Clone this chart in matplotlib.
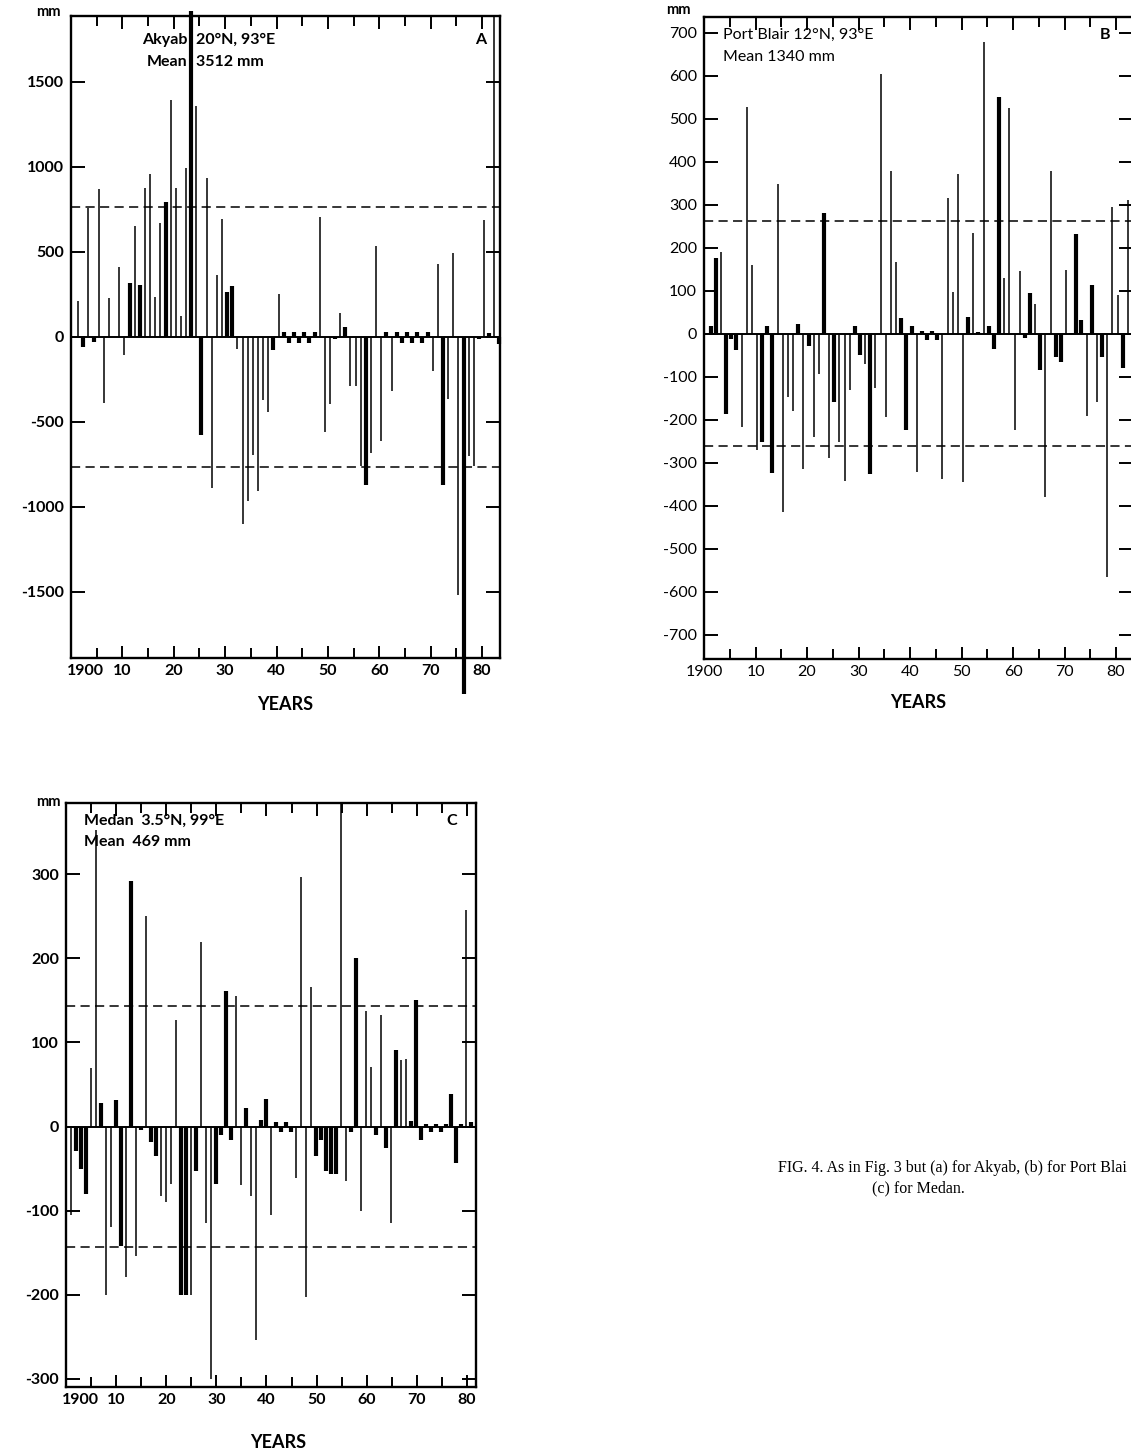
import matplotlib.pyplot as plt
import matplotlib.transforms as mtransforms

plt.rcParams['font.family'] = ['Lato', 'DejaVu Sans']

W, H = 1131, 1453

# rainfall anomalies (mm)
years_a = list(range(1901, 1984))
akyab = [208, -60, 760, -30, 868, -388, 228, 0, 411, -107,
         315, 650, 305, 875, 960, 236, 670, 792, 1396, 873,
         122, 995, 1920, 1358, -579, 934, -888, 363, 695, 264,
         300, -71, -1104, -964, -698, -906, -370, -444, -76, 249,
         25, -35, 25, -35, 25, -35, 25, 706, -558, -398,
         -15, 140, 56, -292, -292, -761, -870, -685, 533, -614,
         25, -322, 25, -38, 25, -38, 25, -38, 25, -203,
         426, -870, -368, 495, -1523, -2100, -700, -761, -15, 685,
         20, 1888, -40]
thick_a = [1911, 1913, 1918, 1923, 1925, 1930, 1931, 1939, 1957, 1972, 1976]

years_b = list(range(1901, 1983))
port_blair = [19, 176, 190, -186, -13, -39, -218, 527, 159, -270,
              -252, 19, -323, 349, -415, -147, -180, 23, -314, -29,
              -241, -93, 281, -290, -160, -251, -342, -131, 19, -49,
              -70, -326, -126, 604, -193, 379, 168, 36, -224, 17,
              -321, 7, -15, 7, -15, -338, 315, 97, 371, -345,
              38, 235, 4, 679, 19, -36, 551, 130, 525, -224,
              146, -10, 94, 69, -85, -380, 379, -54, -67, 149,
              2, 233, 31, -191, 113, -159, -54, -567, 294, 91,
              -80, 312]
thick_b = [1902, 1904, 1911, 1913, 1918, 1923, 1925, 1932, 1939, 1951,
           1957, 1963, 1965, 1969, 1972, 1975, 1981]

years_c = list(range(1901, 1982))
medan = [-105, -29, -51, -80, 70, 353, 28, -201, -120, 31,
         -142, -179, 292, -154, -4, 250, -19, -35, -83, -90,
         -68, 127, -201, -201, -201, -53, 220, -115, -300, -68,
         -10, 161, -16, 155, -70, 22, -83, -254, 8, 33,
         -105, 5, -6, 5, -6, -61, 297, -203, 166, -35,
         -16, -53, -56, -56, 385, -65, -6, 200, -100, 137,
         71, -10, 133, -25, -115, 91, 79, 80, 6, 151,
         -16, 3, -6, 3, -6, 3, 39, -43, 3, 258,
         5]
thick_c = [1902, 1904, 1911, 1913, 1918, 1923, 1924, 1930, 1932, 1939,
           1951, 1953, 1954, 1958, 1964, 1966, 1970, 1977]

fig = plt.figure(figsize=(W / 100, H / 100), dpi=100)


def px_axes(left, right, top, bottom):
    return fig.add_axes([left / W, 1 - bottom / H, (right - left) / W, (bottom - top) / H])


def draw_panel(ax, years, vals, thick, shift, xlim, ylim, yticks, band, weight, first_left):
    for yr, v in zip(years, vals):
        lw = 3.0 if (yr in thick or abs(v) <= 60) else 1.1
        ax.vlines(yr + shift, 0, v, colors='k', lw=lw, capstyle='butt', clip_on=False)
    ax.axhline(0, color='k', lw=1.4)
    for b in (band, -band):
        ax.axhline(b, color='k', lw=1.1, ls=(0, (6, 3.5)))
    ax.set_xlim(*xlim)
    ax.set_ylim(*ylim)
    ax.set_xticks(range(1900, 1985, 10))
    ax.set_xticks(range(1905, 1985, 10), minor=True)
    labels = [str(y % 100) for y in range(1910, 1985, 10)]
    ax.set_xticklabels(['' if first_left else '1900'] + labels)
    ax.set_yticks(yticks)
    ax.set_yticklabels([str(t) for t in yticks])
    ax.tick_params(axis='both', which='both', direction='in', top=True, right=True, width=1.4)
    ax.tick_params(axis='x', which='major', length=9, pad=4)
    ax.tick_params(axis='x', which='minor', length=7)
    ax.tick_params(axis='y', length=10, pad=5)
    for lab in ax.get_xticklabels() + ax.get_yticklabels():
        lab.set_fontsize(11.5)
        lab.set_fontweight(weight)
    if first_left:
        # the "1900" label sits just right of the corner, as in the original
        tr = mtransforms.blended_transform_factory(ax.transData, ax.transAxes)
        off = mtransforms.ScaledTranslation(-4 / 100, -6.3 / 100, fig.dpi_scale_trans)
        ax.text(xlim[0], 0, '1900', transform=tr + off, ha='left', va='top',
                fontsize=11.5, fontweight=weight)
    for s in ax.spines.values():
        s.set_linewidth(1.7)


# A: Akyab
ax_a = px_axes(71, 500, 16, 658)
draw_panel(ax_a, years_a, akyab, thick_a, 0.4, (1900, 1983.5), (-1891, 1888),
           [-1500, -1000, -500, 0, 500, 1000, 1500], 765, 'bold', True)
tr_a = mtransforms.blended_transform_factory(ax_a.transData, ax_a.transAxes)
for txt, x, y, ha in [('Akyab', 1922.6, 0.963, 'right'), ('20°N, 93°E', 1924.3, 0.963, 'left'),
                      ('Mean', 1922.6, 0.929, 'right'), ('3512 mm', 1924.3, 0.929, 'left')]:
    ax_a.text(x, y, txt, transform=tr_a, ha=ha, va='center', fontsize=11.5, fontweight='bold')
ax_a.text(0.955, 0.963, 'A', transform=ax_a.transAxes, ha='center', va='center', fontsize=11.5, fontweight='bold')

# B: Port Blair
ax_b = px_axes(704, 1133, 17, 659)
draw_panel(ax_b, years_b, port_blair, thick_b, 0.3, (1900, 1983.3), (-757, 737),
           list(range(-700, 701, 100)), 262, 'normal', False)
ax_b.text(0.045, 0.972, 'Port Blair 12°N, 93°E', transform=ax_b.transAxes, ha='left', va='center',
          fontsize=11.5)
ax_b.text(0.045, 0.938, 'Mean 1340 mm', transform=ax_b.transAxes, ha='left', va='center', fontsize=11.5)
ax_b.text(0.935, 0.972, 'B', transform=ax_b.transAxes, ha='center', va='center', fontsize=11.5, fontweight='bold')

# C: Medan
ax_c = px_axes(66, 476, 803, 1387)
draw_panel(ax_c, years_c, medan, thick_c, -0.1, (1900, 1981.8), (-310, 385),
           [-300, -200, -100, 0, 100, 200, 300], 143, 'bold', True)
ax_c.text(0.045, 0.97, 'Medan  3.5°N, 99°E', transform=ax_c.transAxes, ha='left', va='center',
          fontsize=11.5, fontweight='bold')
ax_c.text(0.045, 0.933, 'Mean  469 mm', transform=ax_c.transAxes, ha='left', va='center',
          fontsize=11.5, fontweight='bold')
ax_c.text(0.94, 0.97, 'C', transform=ax_c.transAxes, ha='center', va='center', fontsize=11.5, fontweight='bold')

# unit and axis titles
for x, y in [(48, 12), (678, 10), (48, 802)]:
    fig.text(x / W, 1 - y / H, 'mm', ha='center', va='center', fontsize=10.5, fontweight='bold')
for x, y in [(285, 705), (918, 703), (278, 1443)]:
    fig.text(x / W, 1 - y / H, 'YEARS', ha='center', va='center', fontsize=13, fontweight='bold')

# caption
fig.text(778 / W, 1 - 1168 / H, 'FIG. 4. As in Fig. 3 but (a) for Akyab, (b) for Port Blai',
         ha='left', va='center', fontsize=11.5, family=['Liberation Serif', 'DejaVu Serif'])
fig.text(872 / W, 1 - 1188 / H, '(c) for Medan.',
         ha='left', va='center', fontsize=11.5, family=['Liberation Serif', 'DejaVu Serif'])

fig.savefig('out.png', dpi=100)
